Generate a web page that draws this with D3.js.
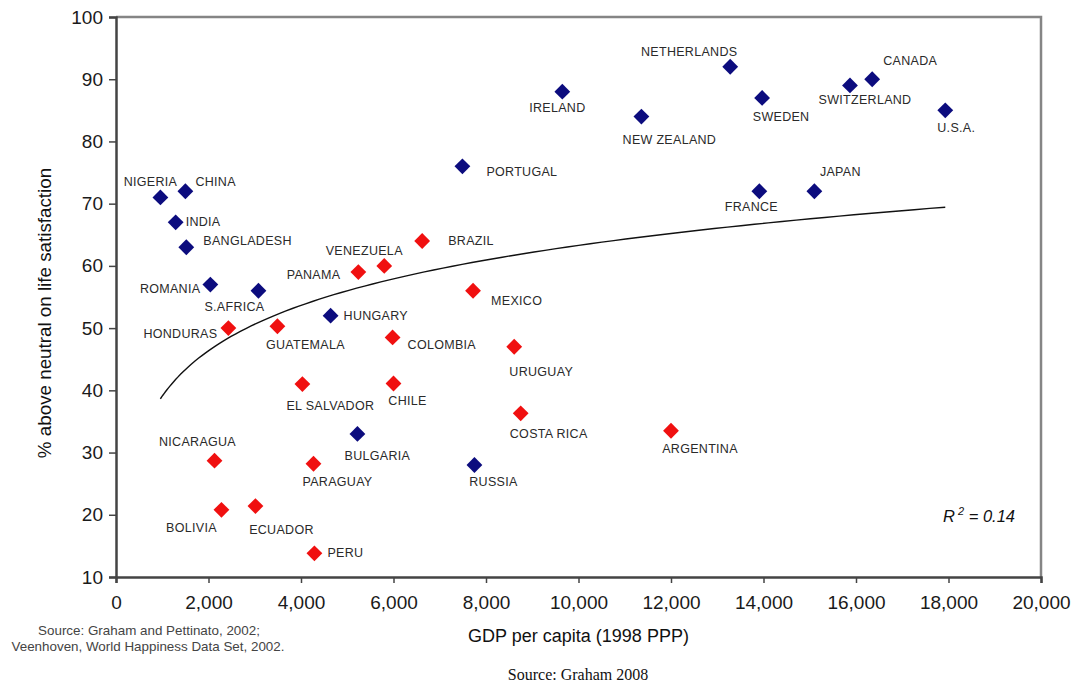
<!DOCTYPE html>
<meta charset="utf-8">
<script src="https://d3js.org/d3.v7.min.js"></script>
<style>
  body { margin: 0; background: #fff; }
</style>
<div id="chart"></div>
<script>

// data
var countries = ["NIGERIA", "CHINA", "INDIA", "BANGLADESH", "ROMANIA", "S.AFRICA", "HUNGARY",
  "BULGARIA", "RUSSIA", "PORTUGAL", "IRELAND", "NEW ZEALAND", "NETHERLANDS", "SWEDEN", "FRANCE",
  "JAPAN", "SWITZERLAND", "CANADA", "U.S.A.",
  "BRAZIL", "VENEZUELA", "PANAMA", "MEXICO", "HONDURAS", "GUATEMALA", "COLOMBIA", "URUGUAY",
  "EL SALVADOR", "CHILE", "COSTA RICA", "ARGENTINA", "NICARAGUA", "PARAGUAY", "BOLIVIA", "ECUADOR", "PERU"];
var gdp = [960, 1500, 1290, 1520, 2040, 3080, 4640,
  5220, 7750, 7490, 9650, 11360, 13280, 13970, 13910,
  15100, 15870, 16350, 17930,
  6620, 5800, 5240, 7720, 2430, 3490, 5980, 8610,
  4030, 6000, 8750, 12000, 2130, 4270, 2280, 3015, 4290];
var satisfaction = [71, 72, 67, 63, 57, 56, 52,
  33, 28, 76, 88, 84, 92, 87, 72,
  72, 89, 90, 85,
  64, 60, 59, 56, 50, 50.3, 48.5, 47,
  41, 41.1, 36.3, 33.5, 28.7, 28.2, 20.8, 21.4, 13.8];
var latin = [0, 0, 0, 0, 0, 0, 0, 0, 0, 0, 0, 0, 0, 0, 0, 0, 0, 0, 0,
  1, 1, 1, 1, 1, 1, 1, 1, 1, 1, 1, 1, 1, 1, 1, 1, 1];

var xTicks = [0, 2000, 4000, 6000, 8000, 10000, 12000, 14000, 16000, 18000, 20000];
var yTicks = [10, 20, 30, 40, 50, 60, 70, 80, 90, 100];

// log trend line y = a + b ln(x), as drawn on the chart
var trendA = -33.6, trendB = 10.52;
var trendRange = [960, 17930];

// label placement: [dx, dy, anchor]
var labelPos = {
  "NIGERIA": [-10, -11, "middle"], "CHINA": [10, -5, "start"], "INDIA": [10, 4, "start"],
  "BANGLADESH": [17, -2, "start"], "ROMANIA": [-10, 8, "end"], "S.AFRICA": [-24, 20, "middle"],
  "HUNGARY": [13, 4, "start"], "BULGARIA": [20, 26, "middle"], "RUSSIA": [19, 21, "middle"],
  "PORTUGAL": [24, 10, "start"], "IRELAND": [-5, 20, "middle"], "NEW ZEALAND": [28, 27, "middle"],
  "NETHERLANDS": [-41, -11, "middle"], "SWEDEN": [19, 23, "middle"], "FRANCE": [-8, 20, "middle"],
  "JAPAN": [26, -15, "middle"], "SWITZERLAND": [15, 19, "middle"], "CANADA": [38, -14, "middle"],
  "U.S.A.": [11, 22, "middle"], "BRAZIL": [26, 4, "start"], "VENEZUELA": [-20, -11, "middle"],
  "PANAMA": [-18, 7, "end"], "MEXICO": [18, 14, "start"], "HONDURAS": [-11, 10, "end"],
  "GUATEMALA": [28, 23, "middle"], "COLOMBIA": [15, 12, "start"], "URUGUAY": [27, 29, "middle"],
  "EL SALVADOR": [28, 26, "middle"], "CHILE": [14, 22, "middle"], "COSTA RICA": [28, 25, "middle"],
  "ARGENTINA": [29, 22, "middle"], "NICARAGUA": [-17, -15, "middle"], "PARAGUAY": [24, 22, "middle"],
  "BOLIVIA": [-30, 22, "middle"], "ECUADOR": [26, 28, "middle"], "PERU": [13, 4, "start"]
};

var data = countries.map(function(c, i) {
  return {name: c, x: gdp[i], y: satisfaction[i], latin: latin[i]};
});

var margin = {top: 17, right: 35, bottom: 113, left: 116},
    width = 1076 - margin.left - margin.right,
    height = 690 - margin.top - margin.bottom;

var root = d3.select("#chart")
  .append("svg")
    .attr("width", 1076)
    .attr("height", 690)
    .style("font-family", "'Liberation Sans', Arial, sans-serif");

var svg = root.append("g")
    .attr("transform", "translate(" + margin.left + "," + margin.top + ")");

var x = d3.scaleLinear().domain([0, 20000]).range([0, width]);
var y = d3.scaleLinear().domain([10, 100]).range([height, 0]);

// frame (top and right)
svg.append("path")
    .attr("d", "M0,0H" + width + "V" + height)
    .attr("fill", "none")
    .attr("stroke", "#858585")
    .attr("stroke-width", 2.5);

// axes
var xAxis = svg.append("g")
    .attr("transform", "translate(0," + height + ")")
    .call(d3.axisBottom(x).tickValues(xTicks).tickSizeOuter(0).tickSize(6).tickPadding(13)
      .tickFormat(d3.format(",")));
var yAxis = svg.append("g")
    .call(d3.axisLeft(y).tickValues(yTicks).tickSizeOuter(0).tickSize(7).tickPadding(6));

[xAxis, yAxis].forEach(function(a) {
  a.select(".domain").attr("stroke", "#444").attr("stroke-width", 2.5);
  a.selectAll(".tick line").attr("stroke", "#444").attr("stroke-width", 1.5);
  a.selectAll(".tick text")
    .style("font-family", "'Liberation Sans', Arial, sans-serif")
    .style("font-size", "19px")
    .attr("fill", "#1a1a1a");
});

// trend line
var trendPts = d3.range(0, 101).map(function(i) {
  var gx = trendRange[0] + (trendRange[1] - trendRange[0]) * Math.pow(i / 100, 2);
  return [gx, trendA + trendB * Math.log(gx)];
});
svg.append("path")
    .datum(trendPts)
    .attr("fill", "none")
    .attr("stroke", "#111")
    .attr("stroke-width", 1.4)
    .attr("d", d3.line()
      .x(function(d) { return x(d[0]); })
      .y(function(d) { return y(d[1]); }));

// points
var diamond = d3.symbol().type(d3.symbolSquare).size(125);
svg.selectAll(".pt")
  .data(data)
  .enter()
  .append("path")
    .attr("class", "pt")
    .attr("d", diamond)
    .attr("transform", function(d) { return "translate(" + x(d.x) + "," + y(d.y) + ") rotate(45)"; })
    .attr("fill", function(d) { return d.latin ? "#f01010" : "#0c0c7e"; });

// country labels
svg.selectAll(".lbl")
  .data(data)
  .enter()
  .append("text")
    .attr("class", "lbl")
    .attr("x", function(d) { return x(d.x) + labelPos[d.name][0]; })
    .attr("y", function(d) { return y(d.y) + labelPos[d.name][1]; })
    .attr("text-anchor", function(d) { return labelPos[d.name][2]; })
    .style("font-size", "12.5px")
    .style("letter-spacing", "0.3px")
    .attr("fill", "#2a2a2a")
    .text(function(d) { return d.name; });

// R squared
var r2 = svg.append("text")
    .attr("x", width - 98)
    .attr("y", y(20) + 7)
    .style("font-size", "16.5px")
    .style("font-style", "italic")
    .attr("fill", "#111");
r2.append("tspan").text("R");
r2.append("tspan").attr("dy", -7).style("font-size", "11px").text(" 2");
r2.append("tspan").attr("dy", 7).text("  = 0.14");

// axis titles
root.append("text")
    .attr("x", margin.left + width / 2)
    .attr("y", 642)
    .attr("text-anchor", "middle")
    .style("font-size", "18px")
    .attr("fill", "#111")
    .text("GDP per capita (1998 PPP)");

root.append("text")
    .attr("transform", "translate(51,313) rotate(-90)")
    .attr("text-anchor", "middle")
    .style("font-size", "18.8px")
    .attr("fill", "#111")
    .text("% above neutral on life satisfaction");

// source notes
root.append("text")
    .attr("x", 149).attr("y", 635)
    .attr("text-anchor", "middle")
    .style("font-size", "13.4px")
    .attr("fill", "#444")
    .text("Source: Graham and Pettinato, 2002;");
root.append("text")
    .attr("x", 148).attr("y", 651)
    .attr("text-anchor", "middle")
    .style("font-size", "13.4px")
    .attr("fill", "#444")
    .text("Veenhoven, World Happiness Data Set, 2002.");

root.append("text")
    .attr("x", 578).attr("y", 680)
    .attr("text-anchor", "middle")
    .style("font-family", "'Liberation Serif', 'Times New Roman', serif")
    .style("font-size", "16px")
    .attr("fill", "#111")
    .text("Source: Graham 2008");

</script>
